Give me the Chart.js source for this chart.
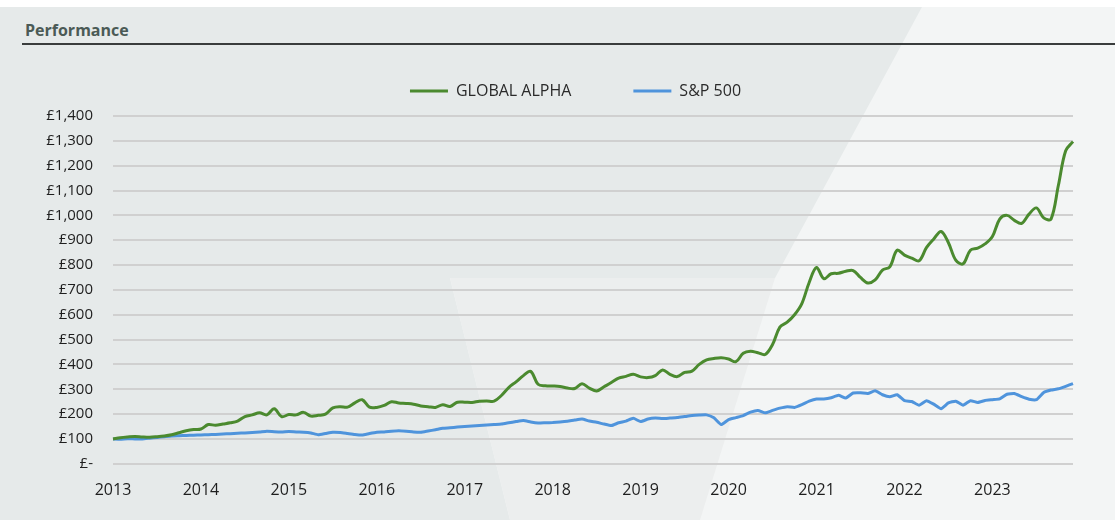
<!DOCTYPE html>
<html>
<head>
<meta charset="utf-8">
<script src="https://cdn.jsdelivr.net/npm/chart.js@4.4.0/dist/chart.umd.min.js"></script>
<style>
  html, body { margin: 0; padding: 0; }
  body { width: 1115px; height: 520px; background: #f3f5f5; position: relative; overflow: hidden; font-family: "Open Sans", sans-serif; }
  .topstrip { position: absolute; left: 0; top: 0; width: 1115px; height: 7px; background: #ffffff; }
  .shade { position: absolute; left: 0; top: 7px; width: 1115px; height: 513px; background: #e6eaea;
    clip-path: polygon(0 0, 922px 0, 775px 271px, 450px 271px, 510px 513px, 0 513px); }
  .shade2 { position: absolute; left: 0; top: 7px; width: 1115px; height: 513px; background: #eceeee;
    clip-path: polygon(450px 271px, 775px 271px, 700px 513px, 510px 513px); }
  .title { position: absolute; left: 25px; top: 19px; font-weight: 700; font-size: 16px; color: #4b5a56; }
  .rule { position: absolute; left: 22px; top: 43px; width: 1093px; height: 2px; background: #3a3d3d; }
  #wrap { position: absolute; left: 0; top: 0; width: 1115px; height: 520px; }
</style>
</head>
<body>
<div class="topstrip"></div>
<div class="shade"></div>
<div class="shade2"></div>
<div class="title">Performance</div>
<div class="rule"></div>
<div id="wrap"><canvas id="chart"></canvas></div>
<script>
const years = ['2013','2014','2015','2016','2017','2018','2019','2020','2021','2022','2023'];

// monthly values, Jan 2013 .. Dec 2023
const globalAlpha = [
  100,105,108,110,108,107,109,112,117,125,133,138,
  140,158,155,160,165,172,190,197,205,197,222,190,
  198,197,207,192,195,200,225,230,228,245,258,228,
  227,235,250,245,243,240,233,230,227,238,231,248,
  248,247,252,253,252,275,307,330,355,372,320,314,
  313,311,305,303,322,305,293,310,327,345,352,360,
  350,347,355,378,360,351,368,373,400,418,424,427,
  422,411,445,453,447,440,480,550,570,600,645,730,
  790,745,765,767,775,778,750,728,740,780,793,860,
  840,828,817,870,905,935,890,820,805,860,868,885,
  915,985,1000,980,968,1005,1030,990,985,1120,1260,1297
];
const sp500 = [
  100,99,101,100,100,103,106,109,112,113,114,115,
  116,117,118,120,121,123,124,126,128,131,129,128,
  130,128,127,124,117,122,127,126,122,118,116,122,
  127,128,131,133,131,128,127,132,137,143,145,148,
  150,152,154,156,158,160,165,170,174,168,164,165,
  166,168,171,176,180,172,167,160,154,165,172,183,
  170,180,184,182,184,186,190,194,196,197,185,158,
  178,186,194,208,215,205,215,224,230,227,238,252,
  261,261,266,276,265,285,286,283,294,278,270,278,
  254,251,236,254,240,222,245,252,236,254,247,255,
  258,261,280,283,270,260,258,287,297,302,312,323
];

const labels = [];
years.forEach(y => { for (let m = 1; m <= 12; m++) labels.push(y + '-' + String(m).padStart(2, '0')); });

// fixed legend height, and legend centred a bit further right like the reference
const legendTweak = {
  id: 'legendTweak',
  beforeInit(chart) {
    const fit = chart.legend.fit;
    chart.legend.fit = function () {
      fit.bind(chart.legend)();
      this.height = 95;
    };
  },
  afterLayout(chart) {
    chart.legend.left += 78;
  }
};

const ctx = document.getElementById('chart');
const config = {
  type: 'line',
  data: {
    labels: labels,
    datasets: [
      { label: 'GLOBAL ALPHA', data: globalAlpha, borderColor: '#4b8a2f', backgroundColor: '#4b8a2f',
        borderWidth: 3, pointRadius: 0, tension: 0.35 },
      { label: 'S&P 500', data: sp500, borderColor: '#4f94dc', backgroundColor: '#4f94dc',
        borderWidth: 3, pointRadius: 0, tension: 0.15 }
    ]
  },
  options: {
    responsive: true,
    maintainAspectRatio: false,
    animation: false,
    layout: { padding: { top: 21, right: 42, bottom: 11, left: 0 } },
    plugins: {
      legend: {
        position: 'top',
        labels: {
          boxWidth: 38, boxHeight: 3, padding: 62, color: '#2a2a2a',
          font: { family: 'Open Sans', size: 16 },
          generateLabels: chart => Chart.defaults.plugins.legend.labels.generateLabels(chart)
            .map(l => Object.assign(l, { lineWidth: 0 }))
        }
      },
      tooltip: { enabled: false }
    },
    scales: {
      x: {
        grid: { display: false },
        border: { display: false },
        ticks: {
          autoSkip: false, maxRotation: 0, padding: 9, color: '#1e1e1e',
          font: { family: 'Open Sans', size: 16 },
          callback: function (v, i) { return i % 12 === 0 ? labels[i].slice(0, 4) : null; }
        }
      },
      y: {
        min: 0, max: 1400,
        afterFit: s => { s.width = 113; },
        grid: { color: '#d0d0d0', lineWidth: 2, drawTicks: false },
        border: { display: false },
        ticks: {
          stepSize: 100, padding: 20, color: '#1e1e1e',
          font: { family: 'Open Sans', size: 15 },
          callback: v => v === 0 ? '£-' : '£' + v.toLocaleString('en-GB')
        }
      }
    }
  },
  plugins: [legendTweak]
};
new Chart(ctx, config);
</script>
</body>
</html>
